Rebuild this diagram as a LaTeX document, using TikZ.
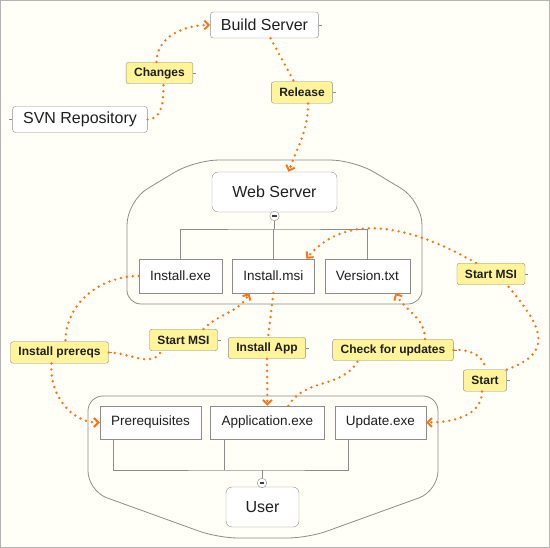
\documentclass[tikz,border=0pt]{standalone}
\usepackage{fontspec}
\setmainfont{Liberation Sans}
\usetikzlibrary{positioning, arrows.meta}

\definecolor{bgfill}{HTML}{FFFFF7}
\definecolor{framec}{HTML}{B4B4B4}
\definecolor{boxline}{HTML}{8C8C8C}
\definecolor{tagfill}{HTML}{FFF49A}
\definecolor{flowc}{HTML}{FF7417}

\begin{document}
\begin{tikzpicture}[
  x=1pt, y=1pt,
  node distance=10pt,
  every node/.style={align=center, inner sep=0pt, text=black!88},
  topic/.style={draw=boxline, fill=white, rounded corners=3pt, inner xsep=10.5pt, minimum height=26pt, font=\fontsize{16}{18}\selectfont},
  bigtopic/.style={topic, rounded corners=6pt, minimum height=40pt},
  file/.style={draw=boxline, fill=white, minimum height=34pt, font=\fontsize{13.5}{16}\selectfont},
  tag/.style={draw=boxline, fill=tagfill, rounded corners=2.5pt, inner xsep=8pt, minimum height=21.5pt, font=\fontsize{12}{14}\selectfont\bfseries},
  stub/.style={append after command={(\tikzlastnode.east) edge[tree] ([xshift=3pt]\tikzlastnode.east)}},
  lstub/.style={append after command={(\tikzlastnode.west) edge[tree] ([xshift=-3pt]\tikzlastnode.west)}},
  minus/.style={circle, draw=boxline, fill=white, minimum size=9.5pt,
    path picture={\draw[line width=1.1pt, black!75] ([xshift=-2.2pt]path picture bounding box.center) -- ([xshift=2.2pt]path picture bounding box.center);}},
  tree/.style={draw=boxline, line width=0.8pt},
  group/.style={draw=boxline, line width=0.8pt},
  flow/.style={draw=flowc, line width=2.7pt, dash pattern=on 0pt off 6pt, line cap=round},
  arrow/.style={flow, -{Straight Barb[length=4.5pt, width=9pt, line width=2pt]}}
  ]

\useasboundingbox (0,0) rectangle (550,-548);
\fill[bgfill] (0,0) rectangle (550,-548);
\draw[framec] (0.5,-0.5) rectangle (549.5,-547.5);

% groups
\draw[group] (274.5,-304) [rounded corners=14pt] -- (127,-304) [rounded corners=24pt] -- (127,-201)
  -- (195,-160) -- (354,-160) -- (422,-201) [rounded corners=14pt] -- (422,-304) -- cycle;
\draw[group] (263,-396) [rounded corners=15pt] -- (438,-396) [rounded corners=20pt] -- (438,-491)
  -- (308,-538) -- (218,-538) -- (88,-491) [rounded corners=15pt] -- (88,-396) -- cycle;

% topics
\node[topic, stub] (build) at (264.5,-25) {Build Server};
\node[topic, lstub] (svn) at (80,-119.5) {SVN Repository};
\node[bigtopic, minimum width=125pt] (web) at (274.5,-192) {Web Server};
\node[bigtopic, minimum width=73pt] (user) at (262.5,-507) {User};

\node[file, minimum width=83pt] (exe) at (180.5,-276) {Install.exe};
\node[file, minimum width=82pt, right=of exe] (msi) {Install.msi};
\node[file, minimum width=85pt, right=of msi] (ver) {Version.txt};

\node[file, minimum width=101pt, minimum height=33pt] (prereq) at (150.5,-422.5) {Prerequisites};
\node[file, minimum width=114pt, minimum height=33pt, right=9pt of prereq] (app) {Application.exe};
\node[file, minimum width=91pt, minimum height=33pt, right=of app] (upd) {Update.exe};

% tree lines
\node[minus] (wminus) at (274.5,-216) {};
\node[minus] (uminus) at (262,-483) {};
\coordinate (wjoin) at (274.5,-229);
\coordinate (ujoin) at (262,-470);
\draw[tree] (wminus) -- (wjoin);
\draw[tree] (exe.north) |- (wjoin) -| (ver.north);
\draw[tree] (msi.north) -- (msi.north |- wjoin);
\draw[tree] ([xshift=14pt]prereq.south west) |- (ujoin) -| ([xshift=14pt]upd.south west);
\draw[tree] ([xshift=14pt]app.south west) -- ([xshift=14pt]app.south west |- ujoin);
\draw[tree] (ujoin) -- (uminus);

% labels
\node[tag, stub] (changes) at (159.5,-73) {Changes};
\node[tag, stub] (release) at (302,-92.5) {Release};
\node[tag, stub] (smsir) at (491,-274) {Start MSI};
\node[tag, stub] (smsil) at (183.5,-340) {Start MSI};
\node[tag, stub] (prereqs) at (59.5,-352.5) {Install prereqs};
\node[tag, stub] (appl) at (267,-348) {Install App};
\node[tag, stub] (chk) at (393,-350) {Check for updates};
\node[tag, stub] (start) at (485,-380.5) {Start};

% flows
\draw[flow] (svn.east) to[out=0, in=-90] ([xshift=4pt]changes.south);
\draw[arrow] ([xshift=-3pt]changes.north) to[out=90, in=180] (build.west);
\draw[flow] ([xshift=6pt]build.south) -- ([xshift=-8pt]release.north);
\draw[arrow] ([xshift=6pt]release.south) to[out=-90, in=70] ([xshift=14pt]web.north);
\draw[flow] (exe.west) to[out=180, in=90] ([xshift=6pt]prereqs.north);
\draw[arrow] ([xshift=-8pt]prereqs.south) to[out=-95, in=180] (prereq.west);
\draw[flow] (prereqs.east) to[out=0, in=-120] ([xshift=-22pt]smsil.south);
\draw[arrow] ([xshift=20pt]smsil.north) to[out=45, in=-120] ([xshift=-24pt]msi.south);
\draw[flow] (msi.south) -- ([xshift=1pt]appl.north);
\draw[arrow] (appl.south) -- (app.north);
\draw[flow] ([xshift=21pt]app.north) to[out=60, in=-120] ([xshift=-35pt]chk.south);
\draw[arrow] ([xshift=32pt]chk.north) to[out=90, in=-60] ([xshift=28pt]ver.south);
\draw[flow] (chk.east) to[out=5, in=90] (start.north);
\draw[arrow] ([xshift=-3pt]start.south) to[out=-90, in=0] (upd.east);
\draw[flow] (start.north east) to[out=20, in=-50, looseness=1.6] ([xshift=16pt]smsir.south);
\draw[arrow] ([xshift=-15pt]smsir.north) to[out=150, in=50] ([xshift=33pt]msi.north);
\end{tikzpicture}
\end{document}
